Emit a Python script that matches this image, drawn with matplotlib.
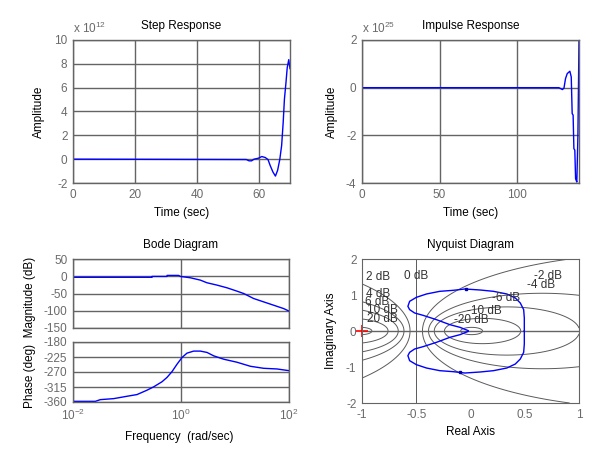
import numpy as np
import matplotlib
matplotlib.use("Agg")
import matplotlib.pyplot as plt

plt.rcParams['font.family'] = ['Liberation Sans', 'DejaVu Sans']
plt.rcParams['mathtext.fontset'] = 'custom'
plt.rcParams['mathtext.rm'] = 'Liberation Sans'
plt.rcParams['mathtext.it'] = 'Liberation Sans'
plt.rcParams['font.size'] = 8.5
plt.rcParams['axes.titlesize'] = 8.5
plt.rcParams['axes.unicode_minus'] = False
plt.rcParams['contour.negative_linestyle'] = 'solid'

# step response (amplitude in units of 1e12)
step_t = [0, 55.9, 56.8, 57.6, 58.4, 59.8, 60.9, 62.0, 62.9, 63.6, 64.5, 65.3, 66.0,
          66.7, 67.3, 67.8, 68.2, 68.7, 69.1, 69.6, 70.0]
step_y = [0, -0.03, -0.14, -0.14, 0.0, 0.08, 0.22, 0.14, -0.03, -0.53, -1.08, -1.42, -0.94,
          -0.03, 1.14, 3.08, 5.03, 6.42, 7.67, 8.35, 7.6]

# impulse response (amplitude in units of 1e25)
imp_t = [0, 127.0, 128.2, 129.3, 130.3, 131.3, 132.4, 134.1, 135.0, 135.6, 136.2, 136.7,
         137.3, 137.8, 138.6, 139.3, 140.0]
imp_y = [0, 0, -0.04, -0.08, -0.02, 0.38, 0.59, 0.69, 0.45, -1.09, -1.15, -2.56,
         -2.62, -3.82, -3.96, -2.0, 2.0]

# bode magnitude
mag_logw = [-2.0, -0.537, -0.536, -0.259, -0.258, -0.043, -0.012, 0.173, 0.358, 0.481,
            0.667, 0.852, 1.037, 1.160, 1.346, 1.531, 1.716, 1.901, 2.0]
mag_db = [-3.0, -3.0, -0.5, -0.5, 2.4, 2.4, -0.5, -4.4, -11.2, -18.9,
          -25.7, -33.5, -43.2, -50.0, -64.6, -74.3, -84.0, -93.7, -101.0]

# bode phase
ph_logw = [-2.0, -1.586, -1.494, -1.247, -1.0, -0.815, -0.630, -0.506, -0.352, -0.259,
           -0.167, -0.074, 0.019, 0.111, 0.235, 0.358, 0.481, 0.605, 0.790, 1.037,
           1.284, 1.531, 1.778, 2.0]
ph_deg = [-358, -358, -352.9, -349.9, -342.8, -337.7, -324.6, -314.5, -299.3, -286.2,
          -269.0, -246.7, -226.5, -213.4, -207.3, -207.3, -211.3, -221.5, -231.6, -240.7,
          -252.8, -258.9, -260.9, -266.0]

# nyquist, positive frequencies (negative ones are the conjugate)
nyq_re = [0.496, 0.496, 0.490, 0.459, 0.413, 0.335, 0.212, 0.088, -0.051, -0.159,
          -0.283, -0.406, -0.499, -0.561, -0.577, -0.561, -0.515, -0.437, -0.314,
          -0.190, -0.097, -0.020]
nyq_im = [0.0, 0.361, 0.593, 0.778, 0.917, 1.028, 1.102, 1.139, 1.167, 1.130,
          1.102, 1.028, 0.935, 0.824, 0.685, 0.593, 0.5, 0.435, 0.315,
          0.176, 0.102, 0.009]
arrow_pts = [(-0.042, 1.167), (-0.097, -1.139)]

# Hall chart levels and label spots
m_levels = [-20, -10, -6, -4, -2, 0, 2, 4, 6, 10, 20]
m_labels = ['2 dB', '0 dB', '-2 dB', '-4 dB', '4 dB', '6 dB', '10 dB', '20 dB',
            '-6 dB', '-10 dB', '-20 dB']
m_label_xy = [(-0.963, 1.49), (-0.614, 1.52), (0.583, 1.54), (0.521, 1.29),
              (-0.963, 1.04), (-0.97, 0.81), (-0.957, 0.59), (-0.957, 0.34),
              (0.196, 0.92), (-0.035, 0.565), (-0.15, 0.315)]

grid_c = '#646464'
tick_c = '#6a6a6a'
line_c = '#0000ff'

fig = plt.figure(figsize=(6, 4.5), dpi=100)


def style(ax):
    for s in ax.spines.values():
        s.set_color(grid_c)
        s.set_linewidth(1.0)
    ax.tick_params(length=0, labelcolor=tick_c, pad=4)
    ax.grid(True, color=grid_c, linewidth=1.0)
    ax.set_axisbelow(True)


def rect(l, t, r, b):
    return [l / 600, (450 - b) / 450, (r - l) / 600, (b - t) / 450]


# Step response
ax1 = fig.add_axes(rect(73, 40, 290, 183))
style(ax1)
ax1.plot(step_t, step_y, color=line_c, linewidth=1.0)
ax1.set_xlim(0, 70)
ax1.set_ylim(-2, 10)
ax1.set_xticks([0, 20, 40, 60])
ax1.set_yticks([-2, 0, 2, 4, 6, 8, 10])
ax1.set_title('Step Response', pad=8)
ax1.set_xlabel('Time (sec)')
ax1.set_ylabel('Amplitude')
ax1.xaxis.set_label_coords(0.5, -0.171)
ax1.yaxis.set_label_coords(-0.127, 0.5)
ax1.text(0, 1.05, r'x 10$^{12}$', transform=ax1.transAxes, color=tick_c)

# Impulse response
ax2 = fig.add_axes(rect(362, 40, 579, 183))
style(ax2)
ax2.plot(imp_t, imp_y, color=line_c, linewidth=1.0)
ax2.set_xlim(0, 140)
ax2.set_ylim(-4, 2)
ax2.set_xticks([0, 50, 100])
ax2.set_yticks([-4, -2, 0, 2])
ax2.set_title('Impulse Response', pad=8)
ax2.set_xlabel('Time (sec)')
ax2.set_ylabel('Amplitude')
ax2.xaxis.set_label_coords(0.5, -0.171)
ax2.yaxis.set_label_coords(-0.113, 0.5)
ax2.text(0, 1.05, r'x 10$^{25}$', transform=ax2.transAxes, color=tick_c)

# Bode magnitude
ax3 = fig.add_axes(rect(73, 259, 289, 328))
style(ax3)
ax3.semilogx(10 ** np.array(mag_logw), mag_db, color=line_c, linewidth=1.0)
ax3.set_xlim(1e-2, 1e2)
ax3.set_ylim(-150, 50)
ax3.set_xticks([1e-2, 1, 1e2])
ax3.set_xticks([], minor=True)
ax3.set_yticks([-150, -100, -50, 0, 50])
ax3.tick_params(labelbottom=False)
ax3.set_title('Bode Diagram', pad=8)

# Bode phase
ax4 = fig.add_axes(rect(73, 342, 289, 402))
style(ax4)
ax4.semilogx(10 ** np.array(ph_logw), ph_deg, color=line_c, linewidth=1.0)
ax4.set_xlim(1e-2, 1e2)
ax4.set_ylim(-360, -180)
ax4.set_xticks([1e-2, 1, 1e2])
ax4.set_xticks([], minor=True)
ax4.set_yticks([-360, -315, -270, -225, -180])
fig.text(179 / 600, (450 - 437) / 450, 'Frequency  (rad/sec)', ha='center', va='center')
fig.text(30 / 600, (450 - 332) / 450, 'Phase (deg)  Magnitude (dB)', rotation=90,
         ha='center', va='center')

# Nyquist
ax5 = fig.add_axes(rect(362, 259, 579, 403))
for s in ax5.spines.values():
    s.set_color(grid_c)
ax5.tick_params(length=0, labelcolor=tick_c, pad=4)
gx, gy = np.meshgrid(np.linspace(-1, 1, 500), np.linspace(-2, 2, 500))
G = gx + 1j * gy
with np.errstate(divide='ignore', invalid='ignore'):
    M = 20 * np.log10(np.abs(G / (1 + G)))
ax5.contour(gx, gy, M, levels=m_levels, colors='#5a5a5a', linewidths=0.7,
            linestyles='solid')
ax5.axhline(0, color=grid_c, linewidth=1.0)
for lab, (lx, ly) in zip(m_labels, m_label_xy):
    ax5.text(lx, ly, lab, color='#333333', fontsize=8.5, va='center')
re = np.array(nyq_re)
im = np.array(nyq_im)
ax5.plot(np.concatenate([re, re[::-1]]), np.concatenate([im, -im[::-1]]),
         color=line_c, linewidth=1.0)
ax5.plot([p[0] for p in arrow_pts], [p[1] for p in arrow_pts], 's', color='#0000aa',
         markersize=2)
ax5.plot([-1], [0], '+', color='red', markersize=8, markeredgewidth=1.2, clip_on=False)
ax5.set_xlim(-1, 1)
ax5.set_ylim(-2, 2)
ax5.set_xticks([-1, -0.5, 0, 0.5, 1])
ax5.set_xticklabels(['-1', '-0.5', '0', '0.5', '1'])
ax5.set_yticks([-2, -1, 0, 1, 2])
ax5.set_title('Nyquist Diagram', pad=8)
ax5.set_xlabel('Real Axis')
ax5.set_ylabel('Imaginary Axis')
ax5.xaxis.set_label_coords(0.5, -0.163)
ax5.yaxis.set_label_coords(-0.113, 0.5)

fig.savefig('out.png', dpi=100)
